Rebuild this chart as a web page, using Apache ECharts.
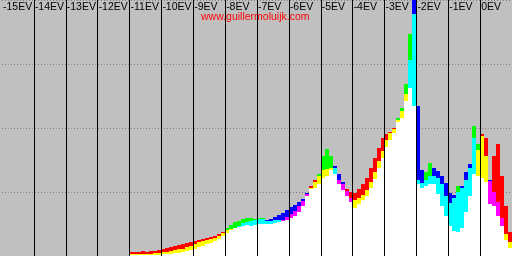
<!DOCTYPE html>
<html>
<head>
<meta charset="utf-8">
<script src="https://cdn.jsdelivr.net/npm/echarts@6/dist/echarts.min.js"></script>
<style>html,body{margin:0;padding:0;background:#c0c0c0}#c{width:512px;height:256px}</style>
</head>
<body>
<div id="c"></div>
<script>
// EV stop tick labels (top axis)
const evTicks = [-15,-14,-13,-12,-11,-10,-9,-8,-7,-6,-5,-4,-3,-2,-1,0];
const watermark = 'www.guillermoluijk.com';
// 128 histogram bins spanning -15EV .. +1EV (1/8 EV each)
const redCounts = [
 0,0,0,0,0,0,0,0,0,0,0,0,0,0,0,0,0,0,0,0,0,0,0,0,0,0,0,0,0,0,0,0,
 4,4,4,5,4,5,5,6,7,8,9,10,11,12,13,14,15,16,17,18,19,20,22,24,26,27,28,29,30,31,30,31,
 32,32,32,32,33,34,36,39,42,45,50,55,62,70,76,80,86,87,88,82,76,72,67,64,63,67,72,78,88,98,108,118,
 122,124,128,136,145,162,168,150,72,68,70,72,72,62,50,40,30,25,24,28,44,60,82,106,122,118,75,100,112,80,50,24];
const greenCounts = [
 0,0,0,0,0,0,0,0,0,0,0,0,0,0,0,0,0,0,0,0,0,0,0,0,0,0,0,0,0,0,0,0,
 2,2,2,2,2,2,3,3,4,4,5,6,7,7,9,10,12,14,15,16,17,18,20,23,28,31,34,35,37,38,38,37,
 38,38,35,35,36,36,35,36,38,40,44,50,60,68,74,82,100,107,100,88,72,66,60,54,56,58,61,66,74,84,95,105,
 116,123,127,138,148,172,222,242,76,73,84,93,80,78,72,60,53,58,70,68,76,88,130,112,120,100,52,50,40,30,22,14];
const blueCounts = [
 0,0,0,0,0,0,0,0,0,0,0,0,0,0,0,0,0,0,0,0,0,0,0,0,0,0,0,0,0,0,0,0,
 1,1,1,1,1,1,1,1,2,2,2,3,3,4,5,6,7,9,10,12,13,15,17,20,23,26,28,30,33,34,35,36,
 37,37,36,37,39,41,43,46,49,51,54,57,63,67,68,72,78,80,86,90,82,74,65,58,48,52,56,60,68,77,88,98,
 109,116,123,134,138,155,196,256,150,86,76,80,88,85,80,73,63,61,64,70,84,92,118,80,78,74,76,64,54,38,16,8];

const binLabels = redCounts.map((_, i) => String(i));
const histData = redCounts.map((r, i) => [i, r, greenCounts[i], blueCounts[i]]);
const chanColor = { r: '#ff0000', g: '#00ff00', b: '#0000ff' };
const pairColor = { rg: '#ffff00', gr: '#ffff00', gb: '#00ffff', bg: '#00ffff', rb: '#ff00ff', br: '#ff00ff' };

function renderBin(params, api) {
  const i = api.value(0);
  const ch = [['r', api.value(1)], ['g', api.value(2)], ['b', api.value(3)]].sort((a, b) => b[1] - a[1]);
  const w = Math.round(api.size([1, 0])[0]);
  const base = api.coord([i, 0]);
  const x = Math.round(base[0] - w / 2);
  const y = ch.map(c => api.coord([i, c[1]])[1]);
  const rect = (y0, y1, color) => ({
    type: 'rect', shape: { x: x, y: y1, width: w, height: Math.max(0, y0 - y1) },
    style: { fill: color, stroke: null }
  });
  return {
    type: 'group',
    children: [
      rect(base[1], y[2], '#ffffff'),
      rect(y[2], y[1], pairColor[ch[0][0] + ch[1][0]]),
      rect(y[1], y[0], chanColor[ch[0][0]])
    ]
  };
}

const chart = echarts.init(document.getElementById('c'), null, { renderer: 'canvas' });
chart.setOption({
  backgroundColor: '#c0c0c0',
  animation: false,
  grid: { left: 0, right: 0, top: 0, bottom: 0 },
  xAxis: [
    { type: 'category', data: binLabels, show: false, boundaryGap: true },
    { type: 'value', min: -15, max: 1, interval: 1, position: 'top', z: 10,
      axisLine: { show: false }, axisTick: { show: false },
      axisLabel: { inside: true, margin: 2, align: 'left', verticalAlign: 'top', showMinLabel: true, showMaxLabel: false,
        padding: [0, 0, 0, 1], hideOverlap: false,
        color: '#000', fontFamily: '"Liberation Sans", Arial', fontSize: 10.5,
        formatter: v => (evTicks.indexOf(v) >= 0 ? v + 'EV' : '') },
      splitLine: { show: true, showMinLine: false, showMaxLine: false, lineStyle: { color: '#000', width: 1 } } }
  ],
  yAxis: { type: 'value', min: 0, max: 256, interval: 64,
    axisLine: { show: false }, axisTick: { show: false }, axisLabel: { show: false },
    splitLine: { show: true, lineStyle: { color: '#808080', width: 1, type: [1, 2] } } },
  series: [
    { type: 'custom', xAxisIndex: 0, data: histData, renderItem: renderBin,
      encode: { x: 0, y: [1, 2, 3] }, clip: true }
  ],
  graphic: [
    { type: 'text', left: 201, top: 12, z: 20,
      style: { text: watermark, fill: '#ff0000', font: '10.5px "Liberation Sans", Arial' } }
  ]
});
</script>
</body>
</html>
